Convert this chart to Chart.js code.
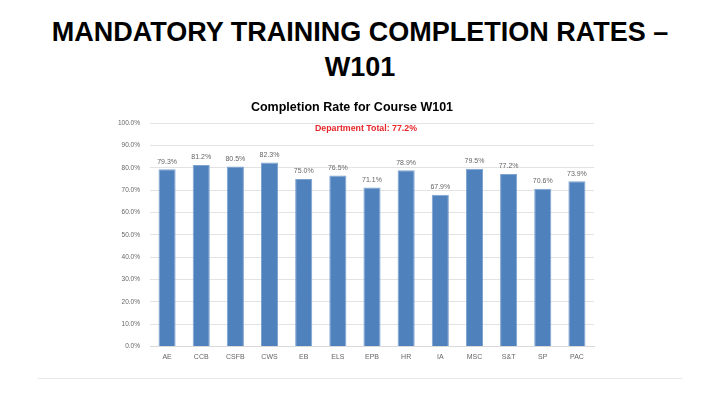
<!DOCTYPE html>
<html>
<head>
<meta charset="utf-8">
<script src="https://cdn.jsdelivr.net/npm/chart.js@4"></script>
<style>
  html, body { margin: 0; padding: 0; background: #fff; }
  body { width: 720px; height: 405px; position: relative; overflow: hidden; font-family: "Liberation Sans", Arial, sans-serif; }
  h1 { position: absolute; left: 0; top: 15px; width: 720px; margin: 0; text-align: center;
       font-size: 27px; line-height: 35px; font-weight: bold; color: #000; }
  #wrap { position: absolute; left: 110px; top: 95px; width: 500px; height: 272px; }
  #rule { position: absolute; left: 38px; top: 378px; width: 644px; height: 1px; background: #e8e8e8; }
</style>
</head>
<body>
<h1>MANDATORY TRAINING COMPLETION RATES –<br>W101</h1>
<div id="wrap"><canvas id="rateChart"></canvas></div>
<div id="rule"></div>
<script>
// datos del gráfico
const departments = ['AE', 'CCB', 'CSFB', 'CWS', 'EB', 'ELS', 'EPB', 'HR', 'IA', 'MSC', 'S&T', 'SP', 'PAC'];
const completionRates = [79.3, 81.2, 80.5, 82.3, 75.0, 76.5, 71.1, 78.9, 67.9, 79.5, 77.2, 70.6, 73.9];
const departmentTotal = 77.2;
const yTicks = [0, 10, 20, 30, 40, 50, 60, 70, 80, 90, 100];

(function () {
    'use strict';

    // etiquetas encima de cada barra + total del departamento
    const labelsPlugin = {
        id: 'barLabels',
        afterDatasetsDraw(chart) {
            const ctx = chart.ctx;
            const meta = chart.getDatasetMeta(0);
            ctx.save();
            ctx.font = '7px "Liberation Sans", Arial, sans-serif';
            ctx.fillStyle = '#666';
            ctx.textAlign = 'center';
            ctx.textBaseline = 'bottom';
            meta.data.forEach((bar, i) => {
                ctx.fillText(completionRates[i].toFixed(1) + '%', bar.x, bar.y - 4);
            });
            const y = chart.scales.y.getPixelForValue(97.3);
            const x = (chart.chartArea.left + chart.chartArea.right) / 2 - 6;
            ctx.font = 'bold 8.8px "Liberation Sans", Arial, sans-serif';
            ctx.fillStyle = '#e8262a';
            ctx.textBaseline = 'middle';
            ctx.fillText('Department Total: ' + departmentTotal.toFixed(1) + '%', x, y);
            ctx.restore();
        }
    };

    const canvas = document.getElementById('rateChart');
    new Chart(canvas.getContext('2d'), {
        type: 'bar',
        data: {
            labels: departments,
            datasets: [{
                data: completionRates,
                backgroundColor: '#4f81bd',
                borderColor: '#7ea3d0',
                borderWidth: { top: 1, left: 1, right: 1, bottom: 0 },
                categoryPercentage: 1,
                barPercentage: 0.5
            }]
        },
        options: {
            responsive: true,
            maintainAspectRatio: false,
            animation: false,
            layout: { padding: { left: 0, right: 16, top: 0, bottom: 0 } },
            plugins: {
                legend: { display: false },
                tooltip: { enabled: false },
                title: {
                    display: true,
                    text: 'Completion Rate for Course W101',
                    color: '#000',
                    font: { family: '"Liberation Sans", Arial, sans-serif', size: 12.5, weight: 'bold' },
                    padding: { top: 5, bottom: 8 }
                }
            },
            scales: {
                x: {
                    grid: { display: false, drawTicks: false },
                    border: { display: true, color: '#d9d9d9' },
                    ticks: {
                        color: '#666',
                        padding: 6,
                        maxRotation: 0,
                        autoSkip: false,
                        font: { family: '"Liberation Sans", Arial, sans-serif', size: 7 }
                    }
                },
                y: {
                    min: 0,
                    max: 100,
                    afterFit: (s) => { s.width = 40; },
                    afterBuildTicks: (s) => { s.ticks = yTicks.map(v => ({ value: v })); },
                    grid: { color: '#e3e3e3', drawTicks: false },
                    border: { display: false },
                    ticks: {
                        color: '#666',
                        padding: 10,
                        font: { family: '"Liberation Sans", Arial, sans-serif', size: 6.5 },
                        callback: (v) => v.toFixed(1) + '%'
                    }
                }
            }
        },
        plugins: [labelsPlugin]
    });
})();
</script>
</body>
</html>
